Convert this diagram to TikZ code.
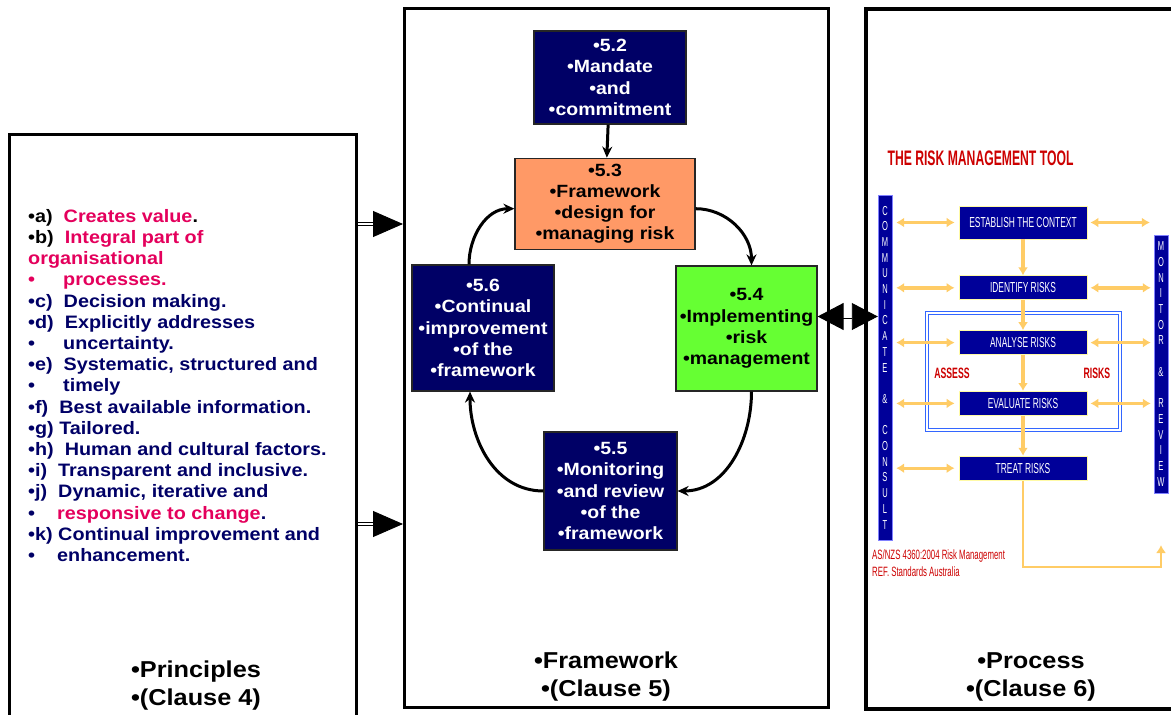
\documentclass[tikz,border=0pt]{standalone}
\usepackage{fontspec}
\setmainfont{Liberation Sans}[FakeStretch=1.1]
\newfontfamily\narrowfont{Liberation Sans}[FakeStretch=0.58]
\usepackage{xcolor}
\usetikzlibrary{arrows.meta, positioning}

\definecolor{navybox}{RGB}{0,0,102}
\definecolor{navytext}{RGB}{0,0,102}
\definecolor{pinktext}{RGB}{228,0,92}
\definecolor{orangebox}{RGB}{255,153,102}
\definecolor{greenbox}{RGB}{102,255,51}
\definecolor{procblue}{RGB}{0,0,153}
\definecolor{procorange}{RGB}{255,204,102}
\definecolor{procred}{RGB}{204,0,0}
\definecolor{assessblue}{RGB}{51,102,255}

\begin{document}
\begin{tikzpicture}[x=1pt, y=1pt,
        panel/.style={rectangle, draw=black, anchor=north west, inner sep=0pt},
        clause/.style={rectangle, draw=black!85, line width=1.2pt, align=center, inner sep=0pt, font=\bfseries\fontsize{17.7}{21.2}\selectfont},
        darkclause/.style={clause, fill=navybox, text=white},
        caption/.style={align=center, font=\bfseries\fontsize{23}{28}\selectfont},
        feed/.style={double, double distance=2.2pt, line width=0.9pt, -{Triangle[length=30pt, width=26pt]}},
        loopline/.style={-{Stealth[length=11pt, width=10pt]}, line width=3pt},
        stepbox/.style={rectangle, fill=procblue, draw=yellow!35, line width=0.8pt, text=white, minimum width=128pt, minimum height=24pt, inner sep=0pt, font=\narrowfont\fontsize{14.5}{16}\selectfont},
        sidebar/.style={rectangle, fill=procblue, draw=blue!50, text=white, minimum width=14pt, inner sep=0pt, align=center, font=\narrowfont\fontsize{13}{15.7}\selectfont},
        flow/.style={draw=procorange, line width=3.4pt, -{Latex[length=8pt, width=10pt]}},
        twoway/.style={flow, {Latex[length=8pt, width=10pt]}-{Latex[length=8pt, width=10pt]}},
        redlabel/.style={text=procred, font=\narrowfont\bfseries\fontsize{15}{17}\selectfont}
    ]
            \useasboundingbox (0,0) rectangle (1171,-715);

            % Panels
            \node[panel, line width=3pt, minimum width=347pt, minimum height=600pt] (prin) at (8,-133) {};
            \node[panel, line width=2.5pt, minimum width=424pt, minimum height=699pt] (frm) at (403,-7) {};
            \node[panel, line width=4pt, minimum width=330pt, minimum height=700pt] (proc) at (864,-7) {};

            % Principles
            \node[anchor=north west, align=left, text=navytext, inner sep=0pt, font=\bfseries\fontsize{18}{21.2}\selectfont] (list) at (28,-209) {
                \textcolor{black}{•a)}\ \ \textcolor{pinktext}{Creates value}\textcolor{black}{.}\\
                \textcolor{black}{•b)}\ \ \textcolor{pinktext}{Integral part of}\\
                \textcolor{pinktext}{organisational}\\
                \textcolor{pinktext}{\makebox[35pt][l]{•}processes.}\\
                •c)\ \ Decision making.\\
                •d)\ \ Explicitly addresses\\
                \makebox[35pt][l]{•}uncertainty.\\
                •e)\ \ Systematic, structured and\\
                \makebox[35pt][l]{•}timely\\
                •f)\ \ Best available information.\\
                •g)\ Tailored.\\
                •h)\ \ Human and cultural factors.\\
                •i)\ \ Transparent and inclusive.\\
                •j)\ \ Dynamic, iterative and\\
                \makebox[29pt][l]{•}\textcolor{pinktext}{responsive to change}.\\
                •k)\ Continual improvement and\\
                \makebox[29pt][l]{•}enhancement.};
            \node[caption] (prinlbl) at (196,-686) {•Principles\\•(Clause 4)};

            % Framework
            \node[darkclause, minimum width=152pt, minimum height=93pt] (c52) at (610,-77.5) {•5.2\\•Mandate\\•and\\•commitment};
            \node[clause, fill=orangebox, minimum width=180pt, minimum height=91pt, below=33pt of c52, xshift=-5pt] (c53) {•5.3\\•Framework\\•design for\\•managing risk};
            \node[darkclause, minimum width=142pt, minimum height=126pt] (c56) at (483,-328) {•5.6\\•Continual\\•improvement\\•of the\\•framework};
            \node[clause, fill=greenbox, minimum width=141pt, minimum height=125pt] (c54) at (746.5,-328.5) {•5.4\\•Implementing\\•risk\\•management};
            \node[darkclause, minimum width=133pt, minimum height=118pt] (c55) at (610.5,-491) {•5.5\\•Monitoring\\•and review\\•of the\\•framework};
            \node[caption] (frmlbl) at (606,-677) {•Framework\\•(Clause 5)};

            \draw[loopline] (c52) -- (c53);
            \draw[loopline] ([yshift=-5pt]c53.east) to[out=0, in=90] ([xshift=5pt]c54.north);
            \draw[loopline] ([xshift=5pt]c54.south) to[out=-90, in=0] (c55.east);
            \draw[loopline] (c55.west) to[out=180, in=-90] ([xshift=-13pt]c56.south);
            \draw[loopline] ([xshift=-14pt]c56.north) to[out=90, in=180] ([yshift=-5pt]c53.west);

            % Process
            \node[redlabel, font=\narrowfont\bfseries\fontsize{21}{23}\selectfont] (title) at (980.5,-158) {THE RISK MANAGEMENT TOOL};
            \node[sidebar, minimum height=345pt] (comm) at (885,-367.5) {C\\O\\M\\M\\U\\N\\I\\C\\A\\T\\E\\~\\\&\\~\\C\\O\\N\\S\\U\\L\\T};
            \node[sidebar, minimum height=258pt] (mon) at (1161,-364) {M\\O\\N\\I\\T\\O\\R\\~\\\&\\~\\R\\E\\V\\I\\E\\W};

            \draw[assessblue, double, double distance=1.5pt, line width=0.8pt] (927,-313) rectangle (1120,-430);
            \node[redlabel] (assess) at (952,-373) {ASSESS};
            \node[redlabel] (risks) at (1097,-373) {RISKS};

            \node[stepbox, minimum height=33pt] (est) at (1023,-222.5) {ESTABLISH THE CONTEXT};
            \node[stepbox, below=36pt of est] (idf) {IDENTIFY RISKS};
            \node[stepbox, below=30pt of idf] (ana) {ANALYSE RISKS};
            \node[stepbox, below=36pt of ana] (eva) {EVALUATE RISKS};
            \node[stepbox, below=40pt of eva] (trt) {TREAT RISKS};

            \node[anchor=west, align=left, text=procred, inner sep=0pt, font=\narrowfont\fontsize{13.5}{17}\selectfont] (ref) at (872,-563.5) {AS/NZS 4360:2004 Risk Management\\REF. Standards Australia};
            \node[caption] (proclbl) at (1031,-677) {•Process\\•(Clause 6)};

            \draw[flow] (est) -- (idf);
            \draw[flow] (idf) -- (ana);
            \draw[flow] (ana) -- (eva);
            \draw[flow] (eva) -- (trt);

            % Consult and review links
            \draw[twoway, shorten <=4pt, shorten >=4pt] (comm.east |- est) -- (est.west);
            \draw[twoway, shorten <=4pt, shorten >=4pt] (comm.east |- idf) -- (idf.west);
            \draw[twoway, shorten <=4pt, shorten >=4pt] (comm.east |- ana) -- (ana.west);
            \draw[twoway, shorten <=4pt, shorten >=4pt] (comm.east |- eva) -- (eva.west);
            \draw[twoway, shorten <=4pt, shorten >=4pt] (comm.east |- trt) -- (trt.west);
            \draw[twoway, shorten <=3pt, shorten >=4pt] (est.east) -- (mon.west |- est);
            \draw[twoway, shorten <=3pt, shorten >=3pt] (idf.east) -- (mon.west |- idf);
            \draw[twoway, shorten <=3pt, shorten >=3pt] (ana.east) -- (mon.west |- ana);
            \draw[twoway, shorten <=3pt, shorten >=3pt] (eva.east) -- (mon.west |- eva);

            \coordinate (loopturn) at (1161,-567);
            \coordinate (loopend) at (1161,-545);
            \draw[flow, line width=2.6pt] (trt.south) |- (loopturn) -- (loopend);

            % Links between panels
            \draw[feed] (prin.east |- 0,-224) -- (frm.west |- 0,-224);
            \draw[feed] (prin.east |- 0,-524) -- (frm.west |- 0,-524);
            \draw[double, double distance=2.2pt, line width=0.9pt, {Triangle[length=26pt, width=27pt]}-{Triangle[length=26pt, width=27pt]}] ([yshift=12pt]c54.east) -- ([yshift=12pt]c54.east -| comm.west);
    \end{tikzpicture}
\end{document}
